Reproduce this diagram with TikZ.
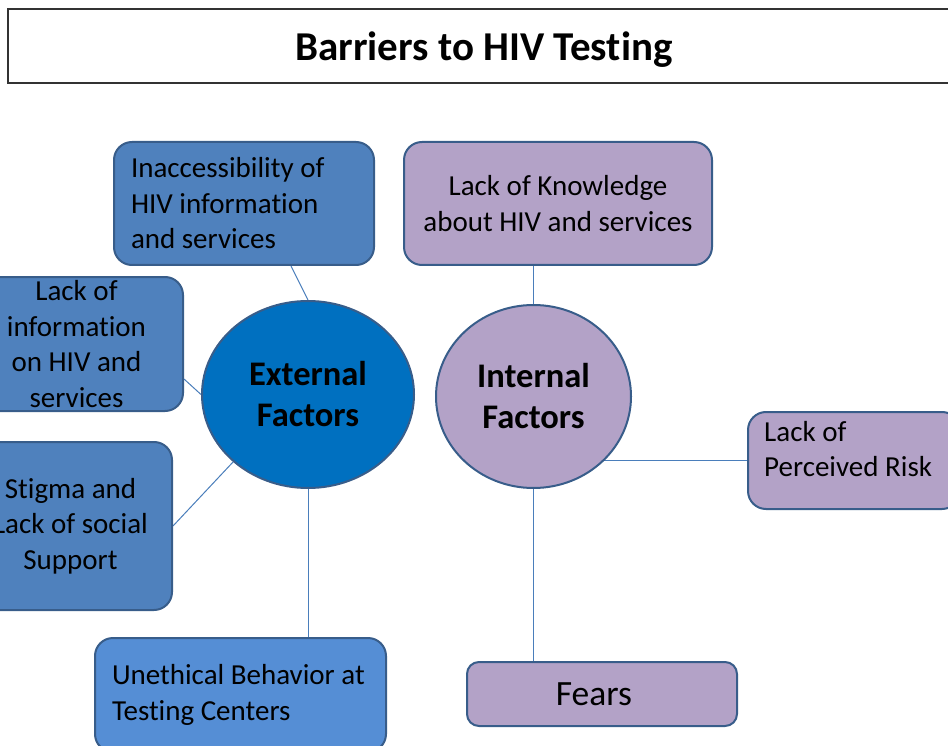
\documentclass[tikz,border=0pt]{standalone}
\usepackage{fontspec}
\setmainfont{Carlito}[Ligatures={NoCommon}]
\usetikzlibrary{shapes.geometric,backgrounds,calc}
\definecolor{boxblue}{HTML}{4F81BD}
\definecolor{boxblueD}{HTML}{558ED5}
\definecolor{extblue}{HTML}{0070C0}
\definecolor{purp}{HTML}{B3A2C7}
\definecolor{edge}{HTML}{385D8A}
\definecolor{conn}{HTML}{4A7EBB}
\tikzset{
  boxstyle/.style={draw=edge, line width=2pt, rounded corners=18pt, inner sep=0pt,
    font=\fontsize{29}{35.5}\selectfont, text=black},
  circstyle/.style={ellipse, draw=edge, line width=2pt, inner sep=0pt,
    font=\fontsize{34.5}{41}\selectfont\bfseries, align=center, text=black},
  connector/.style={draw=conn, line width=1pt}
}
\begin{document}
\begin{tikzpicture}[x=1pt,y=-1pt]
\useasboundingbox (0,0) rectangle (948,746);
% title
\node[draw=black!80, line width=1.2pt, fill=white, minimum width=952pt, minimum height=74pt,
  inner sep=0pt, text depth=0pt, font=\fontsize{41}{48}\selectfont\bfseries] (title) at (484,46) {Barriers to HIV Testing};
% external boxes
\node[boxstyle, fill=boxblue, minimum width=260pt, minimum height=123pt, text width=226pt, align=flush left]
  (A) at (244,203.5) {Inaccessibility of\\HIV information\\and services};
\node[boxstyle, fill=boxblue, minimum width=213pt, minimum height=134pt, align=center]
  (B) at (76.5,344) {Lack of\\information\\on HIV and\\services};
\node[boxstyle, fill=boxblue, minimum width=203pt, minimum height=168pt, align=center]
  (C) at (70.5,526) {Stigma and\\Lack of social\\Support};
\node[boxstyle, fill=boxblueD, minimum width=291pt, minimum height=114pt, text width=257pt, align=flush left]
  (D) at (240.5,695) {Unethical Behavior at\\Testing Centers};
% internal boxes
\node[boxstyle, fill=purp, minimum width=308pt, minimum height=123pt, align=center]
  (E) at (558,203.5) {Lack of Knowledge\\about HIV and services};
\node[boxstyle, fill=purp, minimum width=212pt, minimum height=97pt] (F) at (854,460.5) {};
\node[anchor=west, inner sep=0pt, align=flush left, font=\fontsize{29}{35.5}\selectfont]
  (Ftext) at (764,449) {Lack of\\Perceived Risk};
\node[boxstyle, rounded corners=12pt, fill=purp, minimum width=270pt, minimum height=64pt,
  text depth=0pt, font=\fontsize{35.5}{40}\selectfont] (G) at (602,694) {\hspace*{-16pt}Fears};
% circles
\node[circstyle, fill=extblue, minimum width=212pt, minimum height=187pt] (ext) at (308,394.5) {External\\Factors};
\node[circstyle, fill=purp, minimum width=195pt, minimum height=183pt] (int) at (533.5,396.5) {Internal\\Factors};
% connectors
\begin{scope}[on background layer]
\draw[connector] ($(A.south west)+(178,0)$) -- (ext.north);
\draw[connector] ($(B.south east)+(0,-33)$) -- (ext.west);
\draw[connector] (C.east) -- (ext.222);
\draw[connector] (ext.south) -- (ext.south |- D.north);
\draw[connector] (int.north) -- (int.north |- E.south);
\draw[connector] (int.south) -- (int.south |- G.north);
\draw[connector] (F.west) -- (F.west -| int.center);
\end{scope}
\end{tikzpicture}
\end{document}
